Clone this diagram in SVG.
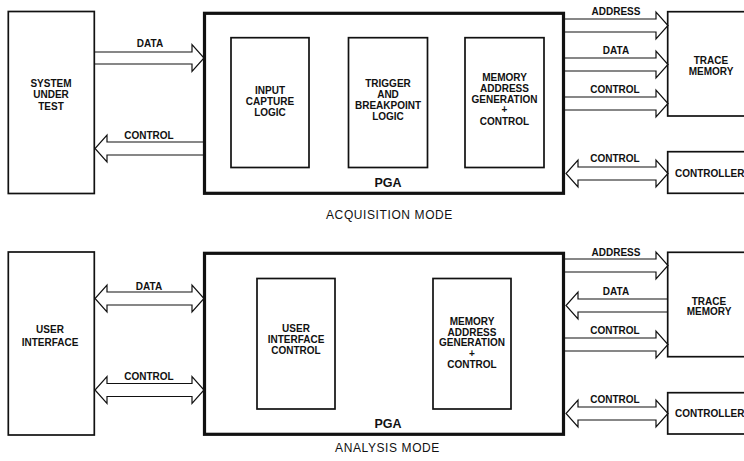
<svg xmlns="http://www.w3.org/2000/svg" width="744" height="461" viewBox="0 0 744 461">
<style>
.box{fill:none;stroke:#111;stroke-width:1.7}
.pga{fill:none;stroke:#111;stroke-width:3.2}
.arr{fill:#fff;stroke:#111;stroke-width:1.2;stroke-linejoin:miter}
text{font-family:"Liberation Sans",Arial,Helvetica,sans-serif;fill:#111}
.t{font-size:10px;font-weight:bold;text-anchor:middle}
.pl{font-size:12.5px;font-weight:bold;text-anchor:middle}
.mode{font-size:12px;text-anchor:middle;letter-spacing:0.6px}
</style>
<rect width="744" height="461" fill="#fff"/>
<g id="connectors">
  <!-- top left -->
  <path class="arr" d="M94,52 L192,52 L192,44.5 L204,58 L192,71.5 L192,64 L94,64"/>
  <path class="arr" d="M204,142 L107,142 L107,135 L95,148.5 L107,162 L107,155 L204,155"/>
  <!-- top right -->
  <path class="arr" d="M565,19 L656,19 L656,12 L668,25.5 L656,39 L656,32 L565,32"/>
  <path class="arr" d="M565,58 L656,58 L656,51 L668,64.5 L656,78 L656,71 L565,71"/>
  <path class="arr" d="M565,97 L656,97 L656,90 L668,103.5 L656,117 L656,110 L565,110"/>
  <path class="arr" d="M578,167 L656,167 L656,160 L668,173.5 L656,187 L656,180 L578,180 L578,187 L566,173.5 L578,160 Z"/>
  <!-- bottom left -->
  <path class="arr" d="M107,292 L192,292 L192,285 L204,298.5 L192,312 L192,305 L107,305 L107,312 L95,298.5 L107,285 Z"/>
  <path class="arr" d="M107,383.5 L192,383.5 L192,376.5 L204,390 L192,403.5 L192,396.5 L107,396.5 L107,403.5 L95,390 L107,376.5 Z"/>
  <!-- bottom right -->
  <path class="arr" d="M565,259 L656,259 L656,252 L668,265.5 L656,279 L656,272 L565,272"/>
  <path class="arr" d="M668,299 L578,299 L578,292 L566,305.5 L578,319 L578,312 L668,312"/>
  <path class="arr" d="M565,338 L656,338 L656,331 L668,344.5 L656,358 L656,351 L565,351"/>
  <path class="arr" d="M578,407 L656,407 L656,400 L668,413.5 L656,427 L656,420 L578,420 L578,427 L566,413.5 L578,400 Z"/>
  <!-- labels -->
  <text class="t" x="150" y="47">DATA</text>
  <text class="t" x="149" y="138.5">CONTROL</text>
  <text class="t" x="616" y="15">ADDRESS</text>
  <text class="t" x="616" y="53.5">DATA</text>
  <text class="t" x="615" y="93">CONTROL</text>
  <text class="t" x="615" y="161.5">CONTROL</text>
  <text class="t" x="149" y="289.5">DATA</text>
  <text class="t" x="149" y="379.5">CONTROL</text>
  <text class="t" x="616" y="255.5">ADDRESS</text>
  <text class="t" x="616" y="294.5">DATA</text>
  <text class="t" x="615" y="333.5">CONTROL</text>
  <text class="t" x="615" y="402.5">CONTROL</text>
</g>
<g id="sut">
  <rect class="box" x="8.3" y="11.5" width="86" height="182"/>
  <text class="t" x="51" y="86.5">SYSTEM</text>
  <text class="t" x="51" y="98">UNDER</text>
  <text class="t" x="51" y="109.5">TEST</text>
</g>
<g id="pga-acq">
  <rect class="pga" x="204.5" y="13.3" width="359" height="180"/>
  <text class="pl" x="388" y="187">PGA</text>
</g>
<g id="input-capture">
  <rect class="box" x="231" y="37.7" width="78" height="129.8"/>
  <text class="t" x="270" y="93.5">INPUT</text>
  <text class="t" x="270" y="104.5">CAPTURE</text>
  <text class="t" x="270" y="115.5">LOGIC</text>
</g>
<g id="trigger">
  <rect class="box" x="348.5" y="37.7" width="79" height="129.8"/>
  <text class="t" x="388" y="87">TRIGGER</text>
  <text class="t" x="388" y="98">AND</text>
  <text class="t" x="388" y="109">BREAKPOINT</text>
  <text class="t" x="388" y="120">LOGIC</text>
</g>
<g id="mem-addr-acq">
  <rect class="box" x="465" y="37.7" width="79" height="129.8"/>
  <text class="t" x="504.5" y="80.5">MEMORY</text>
  <text class="t" x="504.5" y="91.5">ADDRESS</text>
  <text class="t" x="504.5" y="102.5">GENERATION</text>
  <text class="t" x="504.5" y="113">+</text>
  <text class="t" x="504.5" y="124.5">CONTROL</text>
</g>
<g id="trace-acq">
  <rect class="box" x="667.7" y="11.7" width="100" height="104.3"/>
  <text class="t" x="711" y="63.5">TRACE</text>
  <text class="t" x="711" y="74.5">MEMORY</text>
</g>
<g id="controller-acq">
  <rect class="box" x="667.7" y="151.7" width="100" height="41.6"/>
  <text class="t" x="675" y="176.5" style="text-anchor:start">CONTROLLER</text>
</g>
<text class="mode" x="389.5" y="219">ACQUISITION MODE</text>
<g id="ui">
  <rect class="box" x="8.3" y="252" width="86" height="183"/>
  <text class="t" x="50" y="332.5">USER</text>
  <text class="t" x="50" y="346">INTERFACE</text>
</g>
<g id="pga-ana">
  <rect class="pga" x="204.5" y="253.3" width="359" height="181"/>
  <text class="pl" x="388" y="427.5">PGA</text>
</g>
<g id="ui-control">
  <rect class="box" x="257" y="278.5" width="78" height="130.5"/>
  <text class="t" x="296" y="331.5">USER</text>
  <text class="t" x="296" y="342.5">INTERFACE</text>
  <text class="t" x="296" y="353.5">CONTROL</text>
</g>
<g id="mem-addr-ana">
  <rect class="box" x="433" y="278.5" width="78" height="130.5"/>
  <text class="t" x="472" y="324.5">MEMORY</text>
  <text class="t" x="472" y="335.5">ADDRESS</text>
  <text class="t" x="472" y="346">GENERATION</text>
  <text class="t" x="472" y="356.5">+</text>
  <text class="t" x="472" y="367.5">CONTROL</text>
</g>
<g id="trace-ana">
  <rect class="box" x="667.7" y="252.3" width="100" height="104.4"/>
  <text class="t" x="709" y="304.5">TRACE</text>
  <text class="t" x="709" y="315">MEMORY</text>
</g>
<g id="controller-ana">
  <rect class="box" x="667.7" y="392.7" width="100" height="41.3"/>
  <text class="t" x="675" y="416.5" style="text-anchor:start">CONTROLLER</text>
</g>
<text class="mode" x="387.5" y="452">ANALYSIS MODE</text>
</svg>
